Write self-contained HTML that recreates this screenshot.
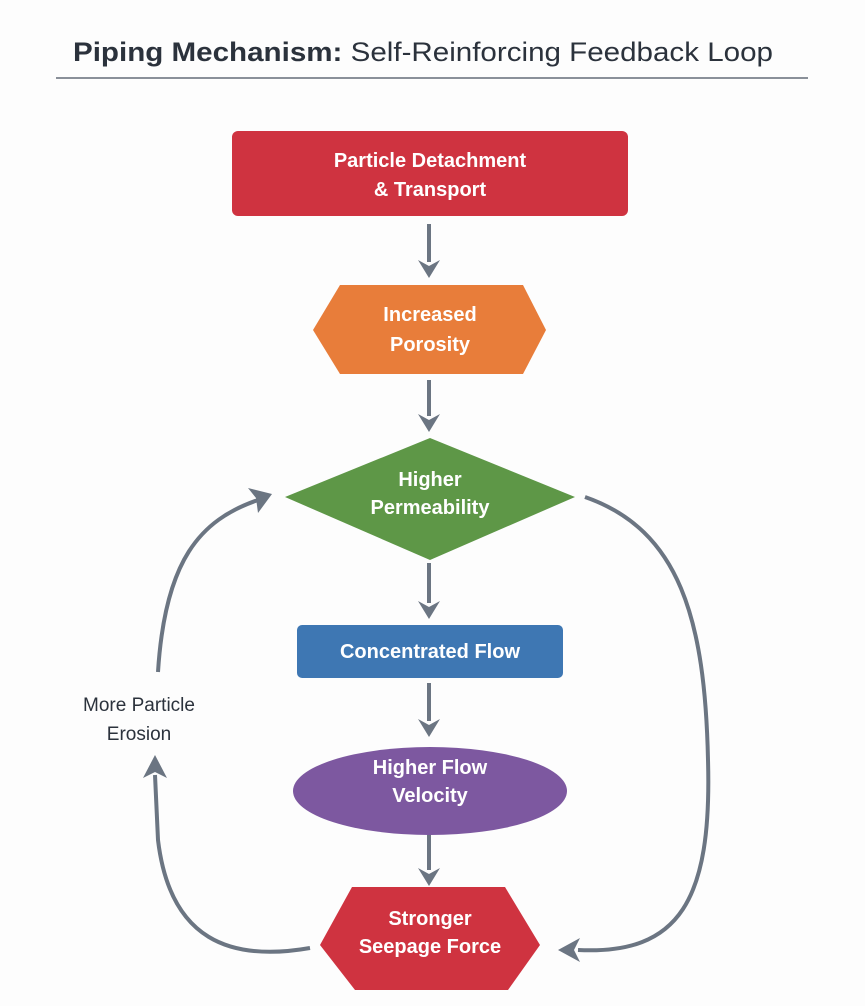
<!DOCTYPE html>
<html><head><meta charset="utf-8"><style>
html,body{margin:0;padding:0;background:#fdfdfd;}
svg{display:block;font-family:"Liberation Sans",sans-serif;}
</style></head><body>
<svg width="865" height="1006" viewBox="0 0 865 1006">
<text x="73" y="61" font-size="27" fill="#2b323c" textLength="700" lengthAdjust="spacingAndGlyphs"><tspan font-weight="bold">Piping Mechanism:</tspan> Self-Reinforcing Feedback Loop</text>
<line x1="56" y1="78" x2="808" y2="78" stroke="#8a9099" stroke-width="2"/>

<g stroke="#6b7582" stroke-width="4" fill="none" stroke-linecap="butt">
<line x1="429" y1="224" x2="429" y2="262"/>
<line x1="429" y1="380" x2="429" y2="416"/>
<line x1="429" y1="563" x2="429" y2="603"/>
<line x1="429" y1="683" x2="429" y2="721"/>
<line x1="429" y1="830" x2="429" y2="870"/>
<path d="M310 948 C 230 962, 170 940, 158 840 L 155 775"/>
<path d="M158 672 C 165 560, 200 520, 258 500"/>
<path d="M585 497 C 680 530, 705 620, 708 760 C 712 900, 680 955, 578 950"/>
</g>
<g fill="#6b7582">
<polygon points="418,260 429,266 440,260 429,278"/>
<polygon points="418,414 429,420 440,414 429,432"/>
<polygon points="418,601 429,607 440,601 429,619"/>
<polygon points="418,719 429,725 440,719 429,737"/>
<polygon points="418,868 429,874 440,868 429,886"/>
<polygon points="143,778 155,772 167,778 155,755"/>
<polygon points="272,494 248,488 256,498 258,513"/>
<polygon points="558,950 580,938 574,950 580,962"/>
</g>

<rect x="232" y="131" width="396" height="85" rx="6" fill="#cf3340"/>
<polygon points="313,330 340,285 523,285 546,330 523,374 340,374" fill="#e87d3a"/>
<polygon points="285,497 430,438 575,497 430,560" fill="#5e9747"/>
<rect x="297" y="625" width="266" height="53" rx="5" fill="#3e77b3"/>
<ellipse cx="430" cy="791" rx="137" ry="44" fill="#7d58a0"/>
<polygon points="320,945 352,887 505,887 540,945 508,990 355,990" fill="#cf3340"/>

<g fill="#fff" font-weight="bold" font-size="20" text-anchor="middle">
<text x="430" y="167">Particle Detachment</text>
<text x="430" y="196">&amp; Transport</text>
<text x="430" y="321">Increased</text>
<text x="430" y="351">Porosity</text>
<text x="430" y="486">Higher</text>
<text x="430" y="514">Permeability</text>
<text x="430" y="658">Concentrated Flow</text>
<text x="430" y="774">Higher Flow</text>
<text x="430" y="802">Velocity</text>
<text x="430" y="925">Stronger</text>
<text x="430" y="953">Seepage Force</text>
</g>
<g fill="#2b323c" font-size="19" text-anchor="middle">
<text x="139" y="711">More Particle</text>
<text x="139" y="740">Erosion</text>
</g>
</svg>
</body></html>
